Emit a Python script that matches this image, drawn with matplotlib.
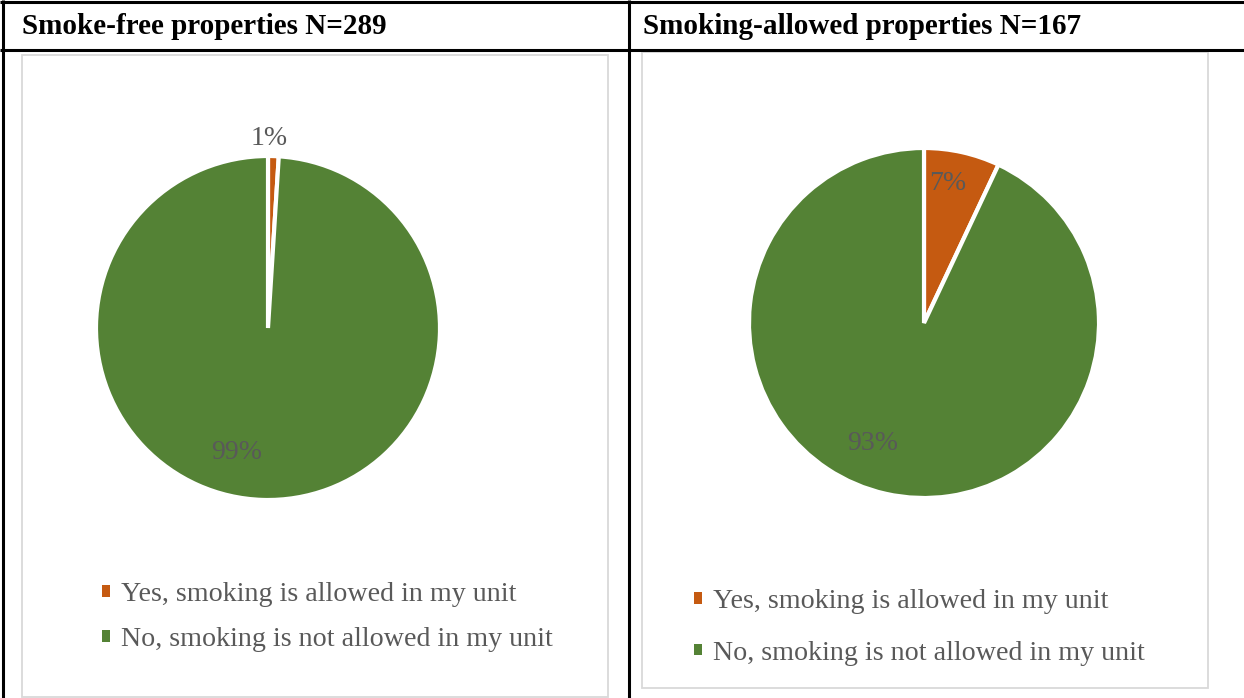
import matplotlib
matplotlib.use("Agg")
import matplotlib.pyplot as plt
import numpy as np

# ---- data ----
categories = ["Yes, smoking is allowed in my unit",
              "No, smoking is not allowed in my unit"]
smoke_free_pct = [1, 99]
smoking_allowed_pct = [7, 93]
panel_titles = ["Smoke-free properties N=289", "Smoking-allowed properties N=167"]
slice_colors = ["#C55A11", "#548235"]

W, H = 1244, 698
DPI = 100
plt.rcParams["font.family"] = ["Liberation Serif", "DejaVu Serif"]

fig = plt.figure(figsize=(W / DPI, H / DPI), dpi=DPI)
ax = fig.add_axes([0, 0, 1, 1])


def py(y):
    """Top-down pixel row to axis y."""
    return H - y


# table grid
grid_kw = dict(color="black", lw=2.2, solid_capstyle="butt")
ax.plot([0, W], [py(2), py(2)], **grid_kw)
ax.plot([0, W], [py(50), py(50)], **grid_kw)
ax.plot([3, 3], [py(0), py(H)], **grid_kw)
ax.plot([629, 629], [py(0), py(H)], **grid_kw)

# chart frames
frames = [(22, 55, 608, 697), (642, 52, 1208, 688)]
for x0, y0, x1, y1 in frames:
    ax.add_patch(plt.Rectangle((x0, py(y1)), x1 - x0, y1 - y0, fill=False,
                               edgecolor="#D9D9D9", lw=1.3))

# headers
header_x = [22, 643]
for x, t in zip(header_x, panel_titles):
    ax.text(x, py(27), t, fontsize=21, fontweight="bold", color="black",
            va="center", ha="left")

# pies
pie_specs = [
    dict(values=smoke_free_pct, center=(268, 328), radius=172,
         label_pos=[(89.5, 1.10), (256.0, 0.745)],
         legend_anchor=(102, 582), legend_spacing=0.73),
    dict(values=smoking_allowed_pct, center=(924, 323), radius=175,
         label_pos=[(80.5, 0.81), (247.0, 0.75)],
         legend_anchor=(694, 589), legend_spacing=0.95),
]

for spec in pie_specs:
    cx, cy = spec["center"]
    r = spec["radius"]
    wedges, _ = ax.pie(spec["values"], colors=slice_colors, startangle=90,
                       counterclock=False, center=(cx, py(cy)), radius=r,
                       wedgeprops=dict(edgecolor="white", linewidth=3))
    for v, (ang, dist) in zip(spec["values"], spec["label_pos"]):
        a = np.deg2rad(ang)
        ax.text(cx + dist * r * np.cos(a), py(cy) + dist * r * np.sin(a),
                f"{v}%", fontsize=20, color="#595959",
                ha="center", va="center")
    lx, ly = spec["legend_anchor"]
    leg = fig.legend(wedges, categories, loc="upper left",
                     bbox_to_anchor=(lx / W, 1 - ly / H),
                     bbox_transform=fig.transFigure, frameon=False,
                     fontsize=20.2, handlelength=0.27, handleheight=0.27,
                     handletextpad=0.42, borderpad=0, borderaxespad=0,
                     labelspacing=spec["legend_spacing"], labelcolor="#595959")
    for h in leg.legend_handles:
        h.set_linewidth(0)

ax.set_xlim(0, W)
ax.set_ylim(0, H)
ax.set_aspect("auto")
ax.axis("off")

fig.savefig("out.png", dpi=DPI, facecolor="white")
